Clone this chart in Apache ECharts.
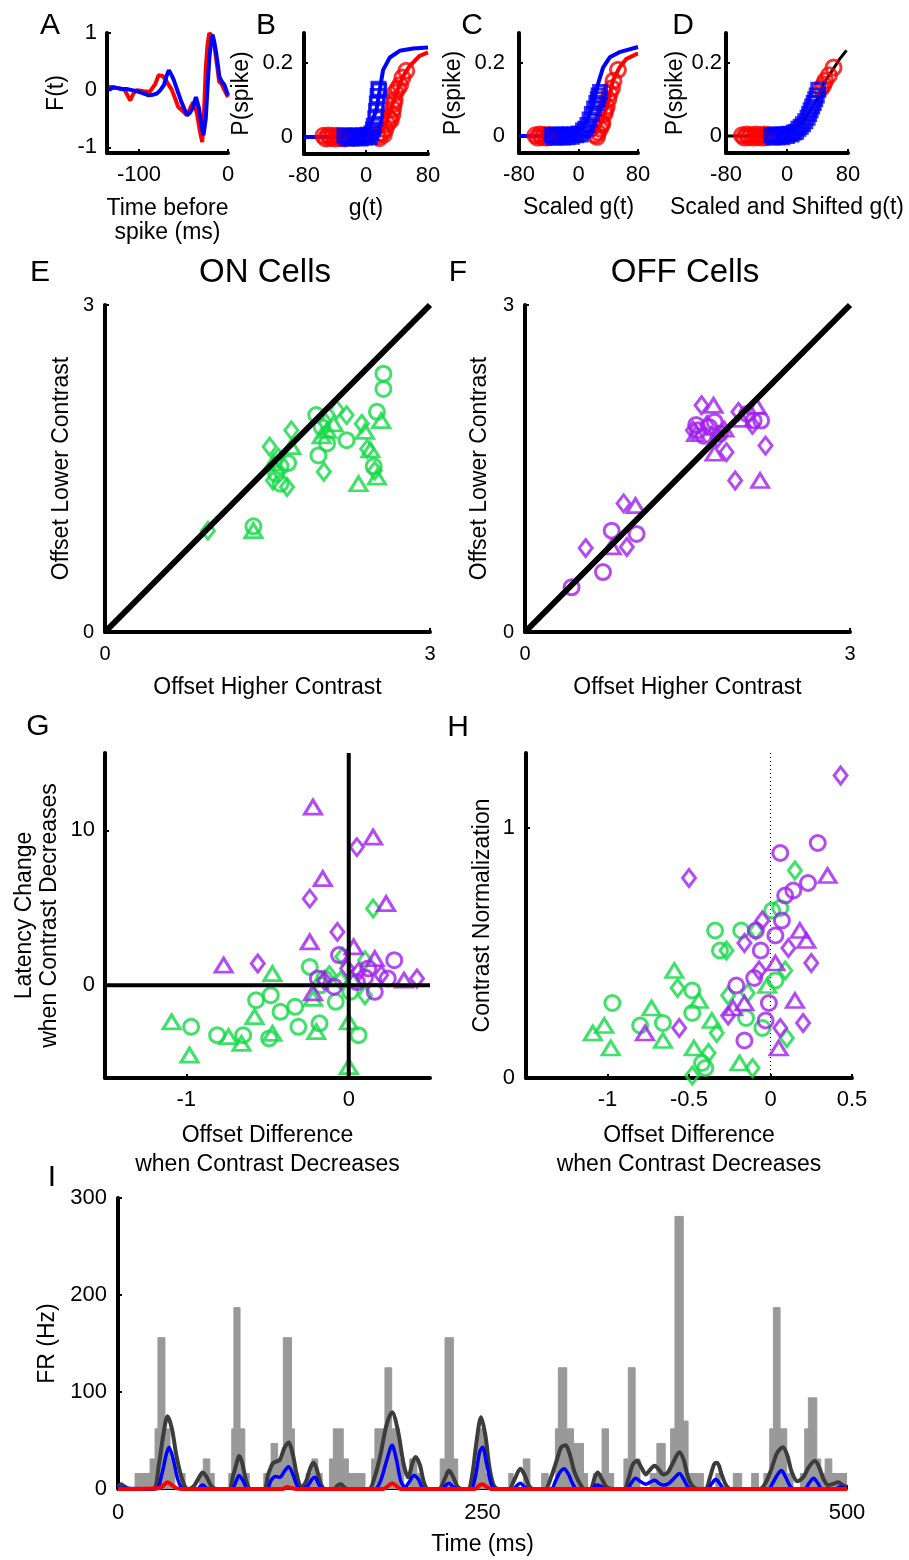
<!DOCTYPE html>
<html>
<head>
<meta charset="utf-8">
<title>Contrast adaptation</title>
<script src="https://cdn.jsdelivr.net/npm/echarts@6.0.0/dist/echarts.min.js"></script>
<style>
  html, body { margin: 0; padding: 0; background: #fff; }
  #chart { width: 909px; height: 1560px; }
</style>
</head>
<body>
<div id="chart"></div>
<script>
// ---------- data ----------
// A: linear filters (time before spike, F(t))
const aRedFilter = [[-134,0.06],[-122,0.03],[-116,0.0],[-110,-0.18],[-106,-0.05],[-102,0],[-95,-0.02],[-88,-0.03],[-82,0.1],[-78,0.26],[-74,0.25],[-71,0.21],[-67,0.1],[-63,0.0],[-56,-0.29],[-50,-0.38],[-46,-0.44],[-42,-0.3],[-39,-0.21],[-35,-0.4],[-32,-0.68],[-29,-0.91],[-27,-0.4],[-25,0.38],[-23,0.8],[-21,1.0],[-18,0.95],[-15,0.74],[-12,0.4],[-10,0.15],[-7,0.1],[-4,0],[0,-0.12]];
const aBlueFilter = [[-134,0.0],[-129,0.05],[-125,0.04],[-119,0.02],[-114,0.02],[-108,0.0],[-102,-0.02],[-96,-0.05],[-89,-0.09],[-84,-0.08],[-80,-0.06],[-76,0.0],[-72,0.09],[-69,0.25],[-66.5,0.35],[-63,0.25],[-61,0.18],[-57,0.0],[-53,-0.18],[-49,-0.33],[-46,-0.44],[-43,-0.4],[-40,-0.32],[-36,-0.12],[-34,-0.15],[-32.5,-0.32],[-30,-0.6],[-27.6,-0.79],[-25,-0.5],[-23,0.05],[-21,0.56],[-19,0.85],[-17.4,0.97],[-15.5,0.85],[-13.6,0.68],[-11,0.4],[-9.8,0.24],[-7,0.15],[-4,0.09],[-2,0.0],[0,-0.09]];

// B: nonlinearities vs g(t)
const bBlueFit = [[-80,0],[-10,0],[-4,0.009],[5,0.027],[13.5,0.073],[17.8,0.127],[22,0.18],[30.7,0.214],[43.5,0.232],[60.7,0.238],[80,0.241]];
const bRedFit = [[-55,0],[13.5,0.005],[22,0.018],[30.7,0.064],[39,0.118],[48,0.164],[56,0.19],[69,0.218],[80,0.228]];
const bRedPts = [[-55,0.003],[-52,-0.004],[-49,0.004],[-46,-0.003],[-43,0.003],[-40,-0.004],[-37,0.003],[-34,-0.003],[-31,0.002],[-28,-0.004],[14,0.003],[17,-0.003],[20,0.01],[23,0.006],[25,0.02],[28,0.035],[30,0.05],[32,0.045],[34,0.06],[35,0.075],[36,0.09],[37,0.1],[38,0.12],[41,0.13],[44,0.14],[47,0.16],[52,0.178]];
const bBluePts = [[-28,0.004],[-25,-0.004],[-22,0.003],[-19,-0.004],[-16,0.004],[-13,-0.003],[-10,0.003],[-7,-0.004],[-4,0.004],[-1,-0.002],[2,0.006],[5,0.0],[7,0.01],[9,0.02],[10,0.03],[12,0.05],[13,0.07],[14,0.09],[15,0.11],[16,0.13],[17,0.125]];

// C: scaled g(t)
const cBlueFit = [[-80,0],[-10,0],[1.8,0.014],[10.7,0.037],[19.7,0.084],[26,0.14],[33,0.186],[42,0.214],[55,0.228],[80,0.242]];
const cRedFit = [[-60,0],[20,0.002],[24,0.01],[33,0.047],[40,0.093],[46,0.149],[55,0.186],[64,0.209],[78,0.223],[80,0.224]];
const cRedPts = [[-58,0.002],[-55,-0.004],[-52,0.004],[-49,-0.003],[-46,0.003],[-43,-0.004],[-40,0.003],[-37,-0.003],[22,0.003],[25,-0.002],[26,0.01],[29,0.02],[31,0.03],[32,0.035],[35,0.06],[36,0.07],[38,0.08],[40,0.1],[42,0.116],[45,0.13],[47,0.15],[53,0.18]];
const cBluePts = [[-36,0.003],[-33,-0.004],[-30,0.004],[-27,-0.003],[-24,0.004],[-21,-0.004],[-18,0.003],[-15,-0.003],[-12,0.004],[-9,-0.002],[-6,0.004],[-3,0.002],[0,0.007],[3,0.004],[6,0.015],[9,0.02],[12,0.03],[15,0.045],[18,0.06],[21,0.075],[24,0.09],[26,0.1],[27,0.11],[29,0.12]];

// D: scaled and shifted g(t)
const dBlackFit = [[-80,0],[-50,0],[0,0.008],[20,0.035],[35,0.085],[43,0.112],[47,0.14],[60,0.18],[69,0.209],[78,0.233]];
const dRedPts = [[-59,0.002],[-56,-0.004],[-53,0.004],[-50,-0.003],[-47,0.003],[-44,-0.004],[-41,0.004],[-38,-0.003],[-35,0.003],[-32,-0.004],[-29,0.004],[-26,-0.003],[-23,0.002],[45,0.13],[48,0.14],[50,0.15],[55,0.165],[61,0.186]];
const dBluePts = [[-21,0.003],[-18,-0.004],[-15,0.004],[-12,-0.003],[-9,0.004],[-6,-0.003],[-3,0.004],[0,0.0],[3,0.006],[6,0.004],[9,0.01],[12,0.012],[15,0.02],[18,0.025],[21,0.032],[24,0.04],[27,0.05],[29,0.06],[31,0.07],[33,0.08],[35,0.09],[37,0.1],[39,0.11],[41,0.126]];

// E: ON cells offsets (higher, lower contrast)
const eCircles = [[1.37,0.97],[2.57,2.37],[2.57,2.23],[2.51,2.02],[1.62,1.52],[1.69,1.55],[1.62,1.36],[1.95,1.99],[2.05,1.73],[1.97,1.62],[2.23,1.76],[2.48,1.52],[1.58,1.45],[2.0,1.88]];
const eDiamonds = [[0.95,0.93],[1.52,1.70],[1.72,1.85],[1.55,1.39],[1.68,1.33],[2.02,1.94],[2.02,1.47],[2.23,1.99],[2.37,1.91],[2.42,1.68],[2.49,1.48],[2.14,2.04],[1.6,1.6]];
const eTriangles = [[1.37,0.93],[2.55,1.94],[1.72,1.70],[2.11,1.91],[2.05,1.85],[2.4,1.84],[2.34,1.36],[2.51,1.42],[2.45,1.67],[1.55,1.55],[2.0,1.8]];

// F: OFF cells offsets
const fCircles = [[0.43,0.41],[0.72,0.55],[0.8,0.93],[1.03,0.9],[1.6,1.85],[1.7,1.88],[1.8,1.82],[2.11,1.94],[2.18,1.94],[2.05,2.0],[1.65,1.8],[1.58,1.9],[1.75,1.93]];
const fDiamonds = [[0.56,0.77],[0.94,0.78],[0.91,1.18],[1.63,2.08],[1.86,1.65],[2.22,1.71],[1.94,1.39],[1.97,2.02],[1.55,1.85],[1.78,1.78],[2.1,1.9],[1.68,1.9]];
const fTriangles = [[0.8,0.78],[1.02,1.16],[1.74,2.08],[1.75,1.64],[2.17,1.39],[2.14,2.07],[1.58,1.82],[2.0,1.95],[1.84,1.86]];

// G: offset difference vs latency change
const gPurpleTriangles = [[-0.22,11.5],[0.15,9.57],[-0.16,6.88],[0.23,5.27],[-0.24,2.8],[-0.77,1.29],[0.03,2.47],[0.34,0.32],[0.16,1.72],[-0.22,-0.5]];
const gPurpleDiamonds = [[0.05,8.92],[-0.24,5.59],[-0.07,3.44],[-0.56,1.40],[0.42,0.43],[-0.01,1.08],[0.06,0.86],[0.2,0.65],[-0.15,0.3]];
const gPurpleCircles = [[0.28,1.61],[-0.06,1.94],[0.12,1.08],[0.16,-0.43],[0.24,0.43],[-0.19,0.43],[-0.09,-0.1],[0.05,0.2],[0.1,0.5]];
const gGreenDiamonds = [[0.15,4.95],[0.1,1.61],[-0.04,1.83],[0.1,-0.65],[-0.12,0.65],[-0.05,0.3]];
const gGreenCircles = [[-0.24,1.18],[-0.57,-0.97],[-0.48,-0.65],[-0.42,-1.72],[-0.33,-1.4],[-0.97,-2.69],[-0.81,-3.23],[-0.65,-3.23],[-0.49,-3.44],[-0.31,-2.69],[-0.18,-2.47],[0.06,-3.23],[-0.08,-1.08],[-0.15,0.43],[0.01,-0.43],[-0.17,0]];
const gGreenTriangles = [[-0.47,0.75],[-0.58,-2.04],[-1.09,-2.37],[-0.98,-4.52],[-0.74,-3.33],[-0.66,-3.76],[-0.47,-3.12],[-0.2,-3.01],[0.0,-5.27],[0.0,-2.37],[-0.22,-0.86],[0.02,0.4]];

// H: offset difference vs contrast normalization
const hPurpleCircles = [[0.29,0.94],[0.06,0.90],[0.23,0.78],[0.14,0.75],[0.09,0.73],[0.07,0.63],[-0.01,0.30],[-0.03,0.23],[-0.16,0.15],[-0.21,0.37],[-0.1,0.4],[-0.09,0.59],[-0.06,0.51],[0.03,0.57]];
const hPurpleDiamonds = [[0.43,1.21],[-0.5,0.80],[0.11,0.52],[0.25,0.46],[0.2,0.22],[0.06,0.2],[-0.26,0.25],[-0.16,0.54],[-0.05,0.63],[-0.07,0.43],[-0.56,0.2]];
const hPurpleTriangles = [[0.35,0.81],[0.18,0.59],[0.22,0.55],[0.15,0.31],[0.05,0.12],[-0.23,0.28],[-0.16,0.30],[0.03,0.46],[-0.77,0.18]];
const hGreenCircles = [[0.01,0.67],[0.06,0.68],[-0.34,0.59],[-0.18,0.59],[-0.31,0.51],[-0.97,0.30],[-0.8,0.21],[-0.66,0.22],[-0.48,0.35],[-0.48,0.26],[-0.42,0.06],[-0.4,0.04],[-0.05,0.2],[0.03,0.39],[-0.15,0.24]];
const hGreenDiamonds = [[0.15,0.83],[-0.27,0.51],[-0.09,0.59],[-0.57,0.36],[-0.33,0.18],[-0.38,0.10],[-0.48,0.01],[-0.11,0.04],[0.1,0.16],[0.09,0.43],[-0.26,0.33],[-0.14,0.34]];
const hGreenTriangles = [[-1.09,0.18],[-1.02,0.21],[-0.98,0.12],[-0.73,0.28],[-0.66,0.15],[-0.59,0.43],[-0.44,0.31],[-0.36,0.23],[-0.47,0.12],[-0.19,0.06],[-0.02,0.37]];

// I: firing rate (time ms, Hz); gray PSTH as step heights
const psthSteps = [[0,0],[11.7,16],[22,31],[25.4,62],[27.4,156],[32.2,62],[35.7,31],[39,0],[43,16],[46,0],[56,16],[58.5,31],[63,16],[66,0],[76,16],[78,62],[79.5,187],[83.7,62],[87,16],[90,0],[100,16],[105,47],[109.5,31],[113.4,156],[119,62],[121,16],[124,0],[129,16],[133,31],[137,16],[140,0],[145,31],[147.7,62],[154.5,31],[158,16],[169.4,0],[174,31],[176.2,62],[183.1,125],[187.7,62],[193,31],[196,0],[200,31],[205,16],[208,0],[221,31],[224.3,156],[230,31],[233,0],[244,16],[246.5,62],[252,16],[255,0],[268,16],[271,0],[278,31],[282.5,0],[290.6,16],[295,0],[300,62],[302,125],[307.8,62],[312.4,47],[319.3,16],[322,0],[326,16],[332,62],[336.4,16],[340,0],[347,31],[350,125],[354.7,31],[358,0],[365,16],[369.6,47],[375.3,16],[379,62],[382,281],[387.7,70],[391,16],[401.5,0],[410,16],[413,0],[422,16],[427.8,0],[434.6,16],[439.2,0],[443,16],[447,62],[449.5,187],[454.1,62],[458.7,16],[463,0],[468,16],[471,62],[473.5,94],[479.3,31],[482,16],[485,31],[489.6,16],[500,16]];
const rateDark = [[0,2],[2,5],[5,2],[8,0],[24,0],[28,25],[31,55],[34,75],[37,62],[40,35],[44,10],[48,0],[52,3],[56,13],[58,17],[61,12],[64,3],[68,0],[76,0],[79,14],[82,30],[83,34],[85,28],[88,8],[91,0],[100,0],[103,15],[106,26],[108,28],[111,30],[114,42],[117,48],[120,35],[123,12],[126,2],[129,8],[132,22],[134,27],[136,22],[139,6],[142,0],[148,0],[151,4],[153,5],[155,2],[158,0],[172,0],[176,12],[180,35],[184,65],[188,79],[192,60],[196,25],[199,12],[202,27],[204,33],[207,25],[210,6],[213,0],[220,0],[224,10],[227,19],[230,12],[233,2],[236,0],[240,0],[243,15],[246,50],[249,74],[252,55],[255,20],[258,3],[262,0],[268,0],[272,10],[276,21],[279,14],[282,3],[285,0],[293,0],[297,12],[301,30],[304,43],[307,45],[310,35],[313,18],[317,5],[320,0],[324,0],[327,12],[329,17],[332,10],[335,2],[340,0],[347,0],[350,10],[353,25],[356,29],[359,22],[362,15],[365,20],[368,24],[371,20],[374,15],[377,17],[380,25],[383,34],[385,38],[388,30],[391,12],[394,3],[398,0],[403,0],[406,12],[409,26],[411,27],[414,15],[417,4],[420,0],[440,0],[444,6],[448,20],[452,37],[456,43],[459,35],[462,18],[466,8],[470,12],[474,23],[478,29],[481,22],[484,10],[487,4],[490,5],[494,7],[497,4],[500,2]];
const rateBlue = [[0,1],[26,0],[30,15],[33,35],[35,43],[38,30],[41,10],[44,1],[48,0],[54,0],[58,4],[62,0],[78,0],[81,8],[83,14],[86,8],[89,0],[102,0],[105,9],[108,13],[111,12],[114,18],[117,23],[120,15],[123,3],[126,0],[130,3],[133,10],[135,12],[138,4],[141,0],[176,0],[180,8],[184,28],[188,45],[191,30],[194,8],[197,2],[200,8],[203,14],[206,10],[209,1],[212,0],[222,0],[225,4],[227,6],[230,2],[233,0],[242,0],[245,12],[248,38],[250,43],[253,25],[256,5],[259,0],[271,0],[274,4],[276,6],[279,2],[282,0],[297,0],[300,8],[303,17],[306,21],[309,15],[312,5],[315,0],[325,0],[328,4],[331,3],[334,0],[349,0],[352,6],[355,11],[358,8],[362,5],[365,7],[368,9],[371,6],[374,4],[378,6],[382,12],[385,16],[388,10],[391,2],[394,0],[404,0],[407,5],[410,10],[413,5],[416,0],[446,0],[449,6],[452,14],[455,19],[458,12],[461,3],[464,0],[471,0],[474,6],[477,11],[480,6],[483,0],[492,0],[495,2],[500,0]];
const rateRed = [[0,0],[29,1],[32,5],[34,7],[37,4],[40,1],[45,0],[113,0],[116,2],[119,1],[122,0],[182,0],[186,4],[188,6],[191,3],[194,0],[245,0],[248,4],[250,5],[253,2],[256,0],[500,0]];

// tick values
const ticksA_x = [-100, 0], ticksA_y = [-1, 0, 1];
const ticksG_x = [-80, 0, 80], ticksG_y = [0, 0.2];
const ticksOffset = [0, 3];
const ticksG2_x = [-1, 0], ticksG2_y = [0, 10];
const ticksH_x = [-1, -0.5, 0, 0.5], ticksH_y = [0, 1];
const ticksI_x = [0, 250, 500], ticksI_y = [0, 100, 200, 300];

// ---------- styling helpers ----------
const FONT = 'Liberation Sans, Arial, sans-serif';
const GREEN = '#10d945', PURPLE = '#a01ef0', RED = '#ff0000', BLUE = '#0000ff';

function axis(gi, min, max, ticks, o) {
  return {
    gridIndex: gi, type: 'value', min: min, max: max,
    axisLine: { onZero: false, lineStyle: { color: '#000', width: o.lw || 4 } },
    axisTick: { inside: true, length: 4, customValues: ticks, lineStyle: { color: '#000', width: 2 } },
    axisLabel: { customValues: ticks, color: '#000', fontFamily: FONT, fontSize: o.fs || 22, margin: o.margin == null ? 11 : o.margin },
    splitLine: { show: false },
    name: o.name || '', nameLocation: 'middle', nameGap: o.gap || 30,
    nameTextStyle: { color: '#000', fontFamily: FONT, fontSize: o.nfs || 23, lineHeight: o.lh || 24 }
  };
}
function pts(gi, data, symbol, color, size) {
  return {
    type: 'scatter', xAxisIndex: gi, yAxisIndex: gi, data: data, symbol: symbol, symbolSize: size,
    itemStyle: { color: 'rgba(0,0,0,0)', borderColor: color, borderWidth: 3 }, z: 3, silent: true
  };
}
function line(gi, data, color, width, extra) {
  return Object.assign({
    type: 'line', xAxisIndex: gi, yAxisIndex: gi, data: data, symbol: 'none',
    lineStyle: { color: color, width: width }, z: 2, silent: true
  }, extra || {});
}
const CIR = 15, DIA = [13, 17], TRI = [17, 14], SQ = 13;

const grids = [
  { left: 107, top: 33, width: 121, height: 120 },  // A
  { left: 304, top: 33, width: 124, height: 121 },  // B
  { left: 519, top: 33, width: 119, height: 120 },  // C
  { left: 726, top: 33, width: 122, height: 120 },  // D
  { left: 105, top: 305, width: 325, height: 327 }, // E
  { left: 525, top: 305, width: 325, height: 327 }, // F
  { left: 105, top: 753, width: 325, height: 325 }, // G
  { left: 526, top: 753, width: 326, height: 325 }, // H
  { left: 118, top: 1198, width: 729, height: 291 } // I
].map(g => Object.assign({ outerBoundsMode: 'none', containLabel: false }, g));

const xAxes = [
  axis(0, -136, 0, ticksA_x, { name: 'Time before\nspike (ms)', gap: 44 }),
  axis(1, -80, 80, ticksG_x, { name: 'g(t)', gap: 43 }),
  axis(2, -80, 80, ticksG_x, { name: 'Scaled g(t)', gap: 43 }),
  axis(3, -80, 80, ticksG_x, { name: 'Scaled and Shifted g(t)', gap: 43 }),
  axis(4, 0, 3, ticksOffset, { name: 'Offset Higher Contrast', gap: 44, fs: 20, margin: 12 }),
  axis(5, 0, 3, ticksOffset, { name: 'Offset Higher Contrast', gap: 44, fs: 20, margin: 12 }),
  axis(6, -1.5, 0.5, ticksG2_x, { name: 'Offset Difference\nwhen Contrast Decreases', gap: 43, lh: 29 }),
  axis(7, -1.5, 0.5, ticksH_x, { name: 'Offset Difference\nwhen Contrast Decreases', gap: 43, lh: 29 }),
  axis(8, 0, 500, ticksI_x, { name: 'Time (ms)', gap: 44, lw: 2, margin: 13 })
];
const yAxes = [
  axis(0, -1.1, 1, ticksA_y, { name: 'F(t)', gap: 38, margin: 10 }),
  axis(1, -0.046, 0.28, ticksG_y, { name: 'P(spike)', gap: 50, margin: 11 }),
  axis(2, -0.046, 0.28, ticksG_y, { name: 'P(spike)', gap: 53, margin: 14 }),
  axis(3, -0.046, 0.28, ticksG_y, { name: 'P(spike)', gap: 22, margin: 4 }),
  axis(4, 0, 3, ticksOffset, { name: 'Offset Lower Contrast', gap: 31, fs: 20, margin: 11 }),
  axis(5, 0, 3, ticksOffset, { name: 'Offset Lower Contrast', gap: 33, fs: 20, margin: 11 }),
  axis(6, -6, 15, ticksG2_y, { name: 'Latency Change\nwhen Contrast Decreases', gap: 43, lh: 25, margin: 10 }),
  axis(7, 0, 1.3, ticksH_y, { name: 'Contrast Normalization', gap: 31, margin: 11 }),
  axis(8, 0, 300, ticksI_y, { name: 'FR (Hz)', gap: 57, margin: 11 })
];

const series = [
  // A
  line(0, aRedFilter, RED, 4),
  line(0, aBlueFilter, BLUE, 4, { z: 3 }),
  // B
  line(1, bRedFit, RED, 4),
  line(1, bBlueFit, BLUE, 4),
  pts(1, bRedPts, 'circle', RED, CIR),
  pts(1, bBluePts, 'rect', BLUE, SQ),
  // C
  line(2, cRedFit, RED, 4),
  line(2, cBlueFit, BLUE, 4),
  pts(2, cRedPts, 'circle', RED, CIR),
  pts(2, cBluePts, 'rect', BLUE, SQ),
  // D
  line(3, dBlackFit, '#000', 3),
  pts(3, dRedPts, 'circle', RED, CIR),
  pts(3, dBluePts, 'rect', BLUE, SQ),
  // E
  pts(4, eCircles, 'circle', GREEN, CIR),
  pts(4, eDiamonds, 'diamond', GREEN, DIA),
  pts(4, eTriangles, 'triangle', GREEN, TRI),
  line(4, [[0, 0], [3, 3]], '#000', 6, { z: 4 }),
  // F
  pts(5, fCircles, 'circle', PURPLE, CIR),
  pts(5, fDiamonds, 'diamond', PURPLE, DIA),
  pts(5, fTriangles, 'triangle', PURPLE, TRI),
  line(5, [[0, 0], [3, 3]], '#000', 6, { z: 4 }),
  // G
  pts(6, gGreenCircles, 'circle', GREEN, CIR),
  pts(6, gGreenDiamonds, 'diamond', GREEN, DIA),
  pts(6, gGreenTriangles, 'triangle', GREEN, TRI),
  pts(6, gPurpleCircles, 'circle', PURPLE, CIR),
  pts(6, gPurpleDiamonds, 'diamond', PURPLE, DIA),
  pts(6, gPurpleTriangles, 'triangle', PURPLE, TRI),
  line(6, [[0, -6], [0, 15]], '#000', 4, { z: 4 }),
  line(6, [[-1.5, 0], [0.5, 0]], '#000', 4, { z: 4 }),
  // H
  line(7, [[0, 0], [0, 1.3]], '#000', 1, { lineStyle: { color: '#000', width: 1, type: [1, 3] } }),
  pts(7, hGreenCircles, 'circle', GREEN, CIR),
  pts(7, hGreenDiamonds, 'diamond', GREEN, DIA),
  pts(7, hGreenTriangles, 'triangle', GREEN, TRI),
  pts(7, hPurpleCircles, 'circle', PURPLE, CIR),
  pts(7, hPurpleDiamonds, 'diamond', PURPLE, DIA),
  pts(7, hPurpleTriangles, 'triangle', PURPLE, TRI),
  // I
  line(8, psthSteps, '#999999', 1, { step: 'end', areaStyle: { color: '#999999', opacity: 1 }, z: 1 }),
  line(8, rateDark, '#3c3c3c', 4, { smooth: 0.3, z: 2 }),
  line(8, rateBlue, BLUE, 3.5, { smooth: 0.3, z: 3 }),
  line(8, rateRed, RED, 4, { smooth: 0.3, z: 4 })
];

function label(text, x, y, size) {
  return { type: 'text', x: x, y: y, silent: true,
    style: { text: text, fill: '#000', font: size + 'px ' + FONT, textAlign: 'center', textVerticalAlign: 'middle' } };
}

const chart = echarts.init(document.getElementById('chart'), null, { renderer: 'canvas' });
chart.setOption({
  backgroundColor: '#fff',
  animation: false,
  grid: grids,
  xAxis: xAxes,
  yAxis: yAxes,
  series: series,
  graphic: [
    label('A', 50, 26, 30), label('B', 266, 26, 30), label('C', 472, 26, 30), label('D', 683, 26, 30),
    label('E', 40, 273, 30), label('F', 458, 273, 30),
    label('G', 38, 727, 30), label('H', 458, 728, 30),
    label('I', 52, 1178, 30),
    label('ON Cells', 265, 273, 33), label('OFF Cells', 685, 273, 33)
  ]
});
</script>
</body>
</html>
